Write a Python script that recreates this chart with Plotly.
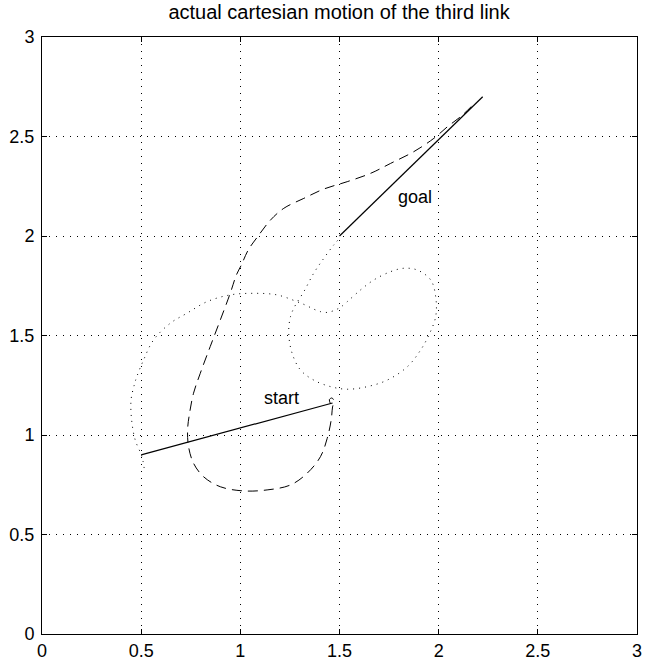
import plotly.graph_objects as go

# Link positions (start and goal)
start_link_x = [0.50, 1.465]
start_link_y = [0.90, 1.161]
goal_link_x = [1.50, 2.222]
goal_link_y = [2.00, 2.700]

# Dashed trajectory (end of third link)
dash_x = [1.455, 1.449, 1.462, 1.472, 1.465, 1.458, 1.438, 1.404, 1.337, 1.253, 1.135, 1.017,
          0.899, 0.815, 0.764, 0.739, 0.734, 0.744, 0.764, 0.798, 0.848, 0.899, 0.949, 0.980,
          1.005, 1.040, 1.086, 1.152, 1.219, 1.320, 1.421, 1.539, 1.657, 1.758, 1.875, 1.976,
          2.044, 2.111, 2.172]
dash_y = [1.156, 1.178, 1.186, 1.171, 1.141, 1.075, 0.983, 0.891, 0.808, 0.749, 0.724, 0.719,
          0.740, 0.790, 0.858, 0.941, 1.025, 1.109, 1.210, 1.310, 1.444, 1.578, 1.712, 1.804,
          1.854, 1.930, 1.995, 2.080, 2.139, 2.189, 2.236, 2.273, 2.315, 2.365, 2.424, 2.491,
          2.549, 2.600, 2.658]

# Dotted trajectory (base of third link)
dot_x = [0.515, 0.504, 0.470, 0.452, 0.449, 0.465, 0.478, 0.512, 0.562, 0.646, 0.731, 0.832,
         0.949, 1.067, 1.185, 1.286, 1.328, 1.369, 1.404, 1.438, 1.471, 1.505, 1.539, 1.606,
         1.673, 1.758, 1.825, 1.892, 1.960, 1.985, 1.985, 1.951, 1.909, 1.842, 1.741, 1.640,
         1.539, 1.455, 1.370, 1.303, 1.261, 1.244, 1.253, 1.278, 1.320, 1.370, 1.421, 1.471,
         1.505]
dot_y = [0.834, 0.891, 0.975, 1.075, 1.176, 1.251, 1.293, 1.377, 1.477, 1.561, 1.612, 1.670,
         1.704, 1.712, 1.704, 1.670, 1.653, 1.633, 1.620, 1.616, 1.625, 1.642, 1.670, 1.729,
         1.779, 1.821, 1.838, 1.829, 1.779, 1.695, 1.595, 1.503, 1.427, 1.343, 1.276, 1.243,
         1.230, 1.243, 1.276, 1.327, 1.411, 1.511, 1.595, 1.653, 1.720, 1.813, 1.888, 1.955,
         1.994]

tick_vals = [0, 0.5, 1, 1.5, 2, 2.5, 3]
tick_text = ["0", "0.5", "1", "1.5", "2", "2.5", "3"]

labels = ["start", "goal"]
label_x = [1.21, 1.879]
label_y = [1.186, 2.196]

FONT = "Liberation Sans, Arial, Helvetica, sans-serif"

fig = go.Figure()
fig.add_trace(go.Scatter(x=dot_x, y=dot_y, mode="lines",
                         line=dict(color="black", width=1, dash="1px,5px", shape="spline"),
                         hoverinfo="skip"))
fig.add_trace(go.Scatter(x=dash_x, y=dash_y, mode="lines",
                         line=dict(color="black", width=1, dash="10px,6px", shape="spline"),
                         hoverinfo="skip"))
fig.add_trace(go.Scatter(x=start_link_x, y=start_link_y, mode="lines",
                         line=dict(color="black", width=1.2), hoverinfo="skip"))
fig.add_trace(go.Scatter(x=goal_link_x, y=goal_link_y, mode="lines",
                         line=dict(color="black", width=1.2), hoverinfo="skip"))

for t, x, y in zip(labels, label_x, label_y):
    fig.add_annotation(x=x, y=y, text=t, showarrow=False,
                       font=dict(family=FONT, size=18, color="black"))

axis_common = dict(
    range=[0, 3], tickvals=tick_vals, ticktext=tick_text,
    showgrid=True, gridcolor="black", gridwidth=1, griddash="1px,6px",
    showline=True, linecolor="black", linewidth=1, mirror="ticks",
    ticks="inside", ticklen=5, tickcolor="black", tickwidth=1,
    zeroline=False, tickfont=dict(family=FONT, size=18, color="black"),
    automargin=False,
)

fig.update_layout(
    width=645, height=663,
    margin=dict(l=42, r=8, t=37, b=29, autoexpand=False),
    paper_bgcolor="white", plot_bgcolor="white",
    showlegend=False,
    title=dict(text="actual cartesian motion of the third link",
               x=0.5257, xanchor="center", y=0.982, yanchor="middle",
               font=dict(family=FONT, size=20, color="black")),
    xaxis=dict(axis_common, ticklabelstandoff=0),
    yaxis=dict(axis_common, ticklabelstandoff=3),
)

fig.write_html("out.html")
